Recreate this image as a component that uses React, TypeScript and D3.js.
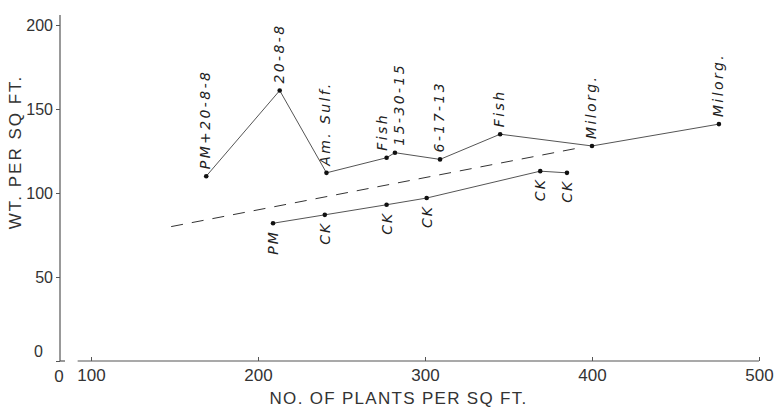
import * as d3 from "d3";
import { useEffect, useRef } from "react";

// upper (fertilized) series
const fertLabels = ["PM+20-8-8", "20-8-8", "Am. Sulf.", "Fish", "15-30-15", "6-17-13", "Fish", "Milorg.", "Milorg."];
const fertPlants = [169, 213, 241, 277, 282, 309, 345, 400, 476];
const fertWeight = [110, 161, 112, 121, 124, 120, 135, 128, 141];

// lower (check) series
const checkLabels = ["PM", "CK", "CK", "CK", "CK", "CK"];
const checkPlants = [209, 240, 277, 301, 369, 385];
const checkWeight = [82, 87, 93, 97, 113, 112];

// dashed trend line ends
const trendPlants = [148, 393];
const trendWeight = [80, 127];

const xTicks = [100, 200, 300, 400, 500];
const yTicks = [0, 50, 100, 150, 200];

const W = 777;
const H = 408;

const x = d3.scaleLinear().domain([100, 500]).range([91, 759]);
const y = d3.scaleLinear().domain([0, 200]).range([361, 25]);

const numFont = "'Liberation Sans', Arial, sans-serif";
const handFont = "'DejaVu Sans', sans-serif";

// push apart labels whose points sit too close together
function labelOffsets(xs: number[]) {
  const off = xs.map(() => 4);
  for (let i = 1; i < xs.length; i++) {
    if (xs[i] - xs[i - 1] < 12) {
      off[i - 1] -= 4;
      off[i] += 5;
    }
  }
  return off;
}

function AxisBottom() {
  const ref = useRef<SVGGElement>(null);
  useEffect(() => {
    if (!ref.current) return;
    const axis = d3.axisBottom(x).tickValues(xTicks).tickSizeInner(-4).tickSizeOuter(0).tickPadding(8);
    const g = d3.select(ref.current).call(axis);
    g.select(".domain").remove();
    g.selectAll(".tick line").attr("stroke", "#555");
    g.selectAll(".tick text")
      .attr("font-family", numFont)
      .attr("font-size", 17)
      .attr("fill", "#333");
  }, []);
  return <g ref={ref} transform={`translate(0, ${y(0)})`} />;
}

function AxisLeft() {
  const ref = useRef<SVGGElement>(null);
  useEffect(() => {
    if (!ref.current) return;
    const axis = d3.axisLeft(y).tickValues(yTicks).tickSizeInner(4).tickSizeOuter(0).tickPadding(3);
    const g = d3.select(ref.current).call(axis);
    g.select(".domain").remove();
    g.selectAll(".tick line").attr("stroke", "#555");
    g.selectAll(".tick text")
      .attr("font-family", numFont)
      .attr("font-size", 16)
      .attr("fill", "#333");
    // the zero label sits a bit up and left of the corner
    g.selectAll<SVGTextElement, number>(".tick text")
      .filter((d) => d === 0)
      .attr("dx", -10)
      .attr("dy", "-0.3em");
  }, []);
  return <g ref={ref} transform="translate(60, 0)" />;
}

export default function App() {
  const line = d3
    .line<number>()
    .x((d, i) => x(fertPlants[i]))
    .y((d) => y(d));
  const lineCheck = d3
    .line<number>()
    .x((d, i) => x(checkPlants[i]))
    .y((d) => y(d));
  const lineTrend = d3
    .line<number>()
    .x((d, i) => x(trendPlants[i]))
    .y((d) => y(d));

  const fertOff = labelOffsets(fertPlants.map((v) => x(v)));
  const checkOff = labelOffsets(checkPlants.map((v) => x(v)));

  return (
    <svg
      width={W}
      height={H}
      style={{ position: "absolute", left: 0, top: 0, background: "#fff" }}
    >
      {/* axes frame */}
      <line x1={60} x2={60} y1={15} y2={y(0)} stroke="#555" strokeWidth={1.2} />
      <line x1={60} x2={65} y1={y(0)} y2={y(0)} stroke="#555" strokeWidth={1.2} />
      <line x1={x(92)} x2={x(500)} y1={y(0)} y2={y(0)} stroke="#555" strokeWidth={1.2} />
      <AxisLeft />
      <AxisBottom />
      <text x={59} y={y(0) + 21} textAnchor="middle" fontFamily={numFont} fontSize={17} fill="#333">
        0
      </text>

      <text
        x={W / 2 + 10}
        y={404}
        textAnchor="middle"
        fontFamily={numFont}
        fontSize={17}
        letterSpacing={1.3}
        fill="#333"
      >
        NO. OF PLANTS PER SQ FT.
      </text>
      <text
        transform={`translate(21, 152) rotate(-90)`}
        textAnchor="middle"
        fontFamily={numFont}
        fontSize={17}
        letterSpacing={2}
        fill="#333"
      >
        WT. PER SQ FT.
      </text>

      {/* dashed trend */}
      <path d={lineTrend(trendWeight) ?? ""} fill="none" stroke="#333" strokeWidth={1} strokeDasharray="12 9" />

      {/* upper series */}
      <path d={line(fertWeight) ?? ""} fill="none" stroke="#555" strokeWidth={1} />
      {fertWeight.map((v, i) => (
        <g key={`f-${i}`}>
          <circle cx={x(fertPlants[i])} cy={y(v)} r={2.3} fill="#111" />
          <text
            transform={`translate(${x(fertPlants[i]) + fertOff[i]}, ${y(v) - 7}) rotate(-90)`}
            fontFamily={handFont}
            fontStyle="italic"
            fontSize={14}
            letterSpacing={2.4}
            fill="#222"
          >
            {fertLabels[i]}
          </text>
        </g>
      ))}

      {/* lower series */}
      <path d={lineCheck(checkWeight) ?? ""} fill="none" stroke="#555" strokeWidth={1} />
      {checkWeight.map((v, i) => (
        <g key={`c-${i}`}>
          <circle cx={x(checkPlants[i])} cy={y(v)} r={2.3} fill="#111" />
          <text
            transform={`translate(${x(checkPlants[i]) + checkOff[i] + 1}, ${y(v) + 7}) rotate(-90)`}
            textAnchor="end"
            fontFamily={handFont}
            fontStyle="italic"
            fontSize={14}
            letterSpacing={2}
            fill="#222"
          >
            {checkLabels[i]}
          </text>
        </g>
      ))}
    </svg>
  );
}
